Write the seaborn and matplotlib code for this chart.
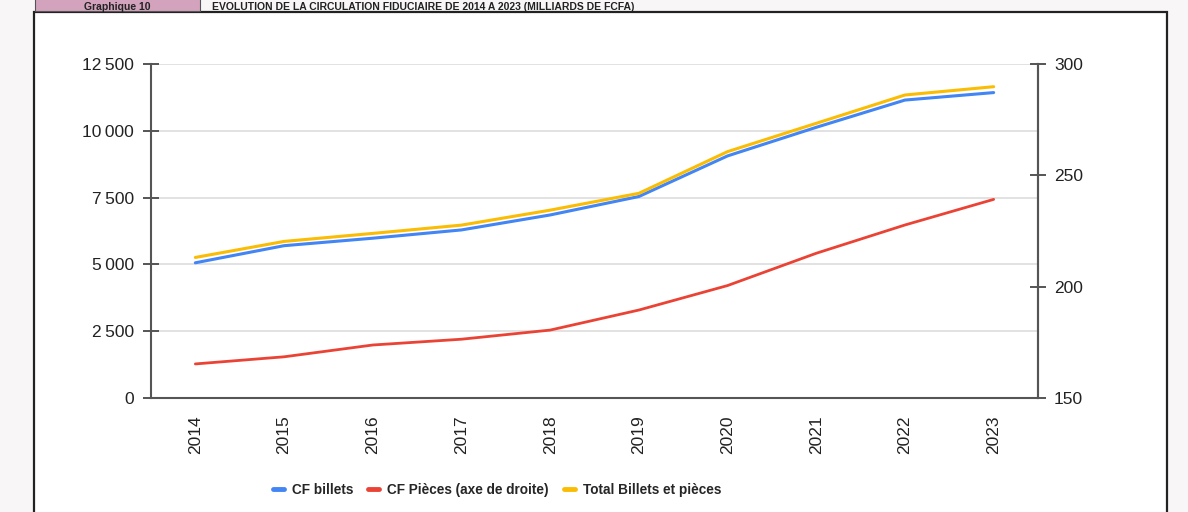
import matplotlib
matplotlib.use('Agg')
import matplotlib.pyplot as plt
from matplotlib.lines import Line2D
from matplotlib.patches import Rectangle
import seaborn as sns
import pandas as pd

years = [2014, 2015, 2016, 2017, 2018, 2019, 2020, 2021, 2022, 2023]
cf_billets = [5060, 5700, 5980, 6290, 6850, 7540, 9060, 10130, 11150, 11430]
total_billets_pieces = [5260, 5860, 6160, 6470, 7030, 7660, 9220, 10280, 11340, 11650]
cf_pieces = [165.3, 168.5, 173.8, 176.4, 180.5, 189.5, 200.5, 215.0, 227.7, 239.2]

left_ticks = [0, 2500, 5000, 7500, 10000, 12500]
right_ticks = [150, 200, 250, 300]

BLUE = '#4285f4'
RED = '#ea4335'
YELLOW = '#fbbc04'
AXIS = '#555555'

df = pd.DataFrame({'annee': years, 'billets': cf_billets,
                   'total': total_billets_pieces, 'pieces': cf_pieces})

sns.set_theme(style='white')
plt.rcParams['font.family'] = ['Liberation Sans', 'DejaVu Sans']

fig = plt.figure(figsize=(11.88, 5.12), dpi=100)
fig.patch.set_facecolor('#f8f6f7')

# cadre blanc du graphique + bandeau du titre
W, H = 1188, 512
fig.patches.append(Rectangle((34 / W, -0.1), (1167 - 34) / W, 1.1 - 12 / H,
                             transform=fig.transFigure, facecolor='white',
                             edgecolor='#222222', linewidth=1.6, zorder=-2))
fig.patches.append(Rectangle((35 / W, 1 - 11 / H), (200 - 35) / W, 0.05,
                             transform=fig.transFigure, facecolor='#d3a3bd',
                             edgecolor='#555555', linewidth=0.8, zorder=-2))
fig.text(117 / W, 1 - 9.5 / H, 'Graphique 10', ha='center', va='baseline',
         fontsize=7.5, fontweight='bold', color='#222222')
fig.text(212 / W, 1 - 9.5 / H,
         'EVOLUTION DE LA CIRCULATION FIDUCIAIRE DE 2014 A 2023 (MILLIARDS DE FCFA)',
         ha='left', va='baseline', fontsize=7.5, fontweight='bold', color='#222222')

ax = fig.add_axes([151 / W, 1 - 398 / H, (1038 - 151) / W, (398 - 64) / H])
ax.set_facecolor('none')
ax2 = ax.twinx()

sns.lineplot(data=df, x='annee', y='billets', ax=ax, color=BLUE, linewidth=2.2, zorder=3)
sns.lineplot(data=df, x='annee', y='total', ax=ax, color=YELLOW, linewidth=2.2, zorder=4)
sns.lineplot(data=df, x='annee', y='pieces', ax=ax2, color=RED, linewidth=2.0, zorder=3)

ax.set_xlim(2013.5, 2023.5)
ax.set_ylim(0, 12500)
ax2.set_ylim(150, 300)
ax.set_xticks(years)
ax.set_xticklabels([str(y) for y in years], rotation=90)
ax.set_yticks(left_ticks)
ax.set_yticklabels([f'{v:,}'.replace(',', '\u2009') for v in left_ticks])
ax2.set_yticks(right_ticks)
ax2.set_yticklabels([str(v) for v in right_ticks])

ax.grid(axis='y', color='#e2e2e2', linewidth=1.4)
ax.set_axisbelow(True)
ax.set_xlabel('')
ax.set_ylabel('')
ax2.set_ylabel('')

for a in (ax, ax2):
    a.spines['top'].set_visible(False)
    for side in ('left', 'right', 'bottom'):
        a.spines[side].set_color(AXIS)
        a.spines[side].set_linewidth(1.5)
ax2.spines['left'].set_visible(False)
ax2.spines['bottom'].set_visible(False)

ax.tick_params(axis='both', direction='inout', length=11, width=1.4, color=AXIS,
               labelsize=12.5, labelcolor='#222222', pad=7)
ax2.tick_params(axis='y', direction='inout', length=11, width=1.4, color=AXIS,
                labelsize=12.5, labelcolor='#222222', pad=6)

handles = [Line2D([], [], color=BLUE, linewidth=3.5, solid_capstyle='round'),
           Line2D([], [], color=RED, linewidth=3.5, solid_capstyle='round'),
           Line2D([], [], color=YELLOW, linewidth=3.5, solid_capstyle='round')]
labels = ['CF billets', 'CF Pièces (axe de droite)', 'Total Billets et pièces']
fig.legend(handles, labels, loc='center', bbox_to_anchor=(497 / W, 1 - 490 / H),
           ncol=3, frameon=False, handlelength=0.8, handletextpad=0.6,
           columnspacing=1.1, prop={'weight': 'bold', 'size': 9.8})

fig.savefig('out.png', dpi=100)
